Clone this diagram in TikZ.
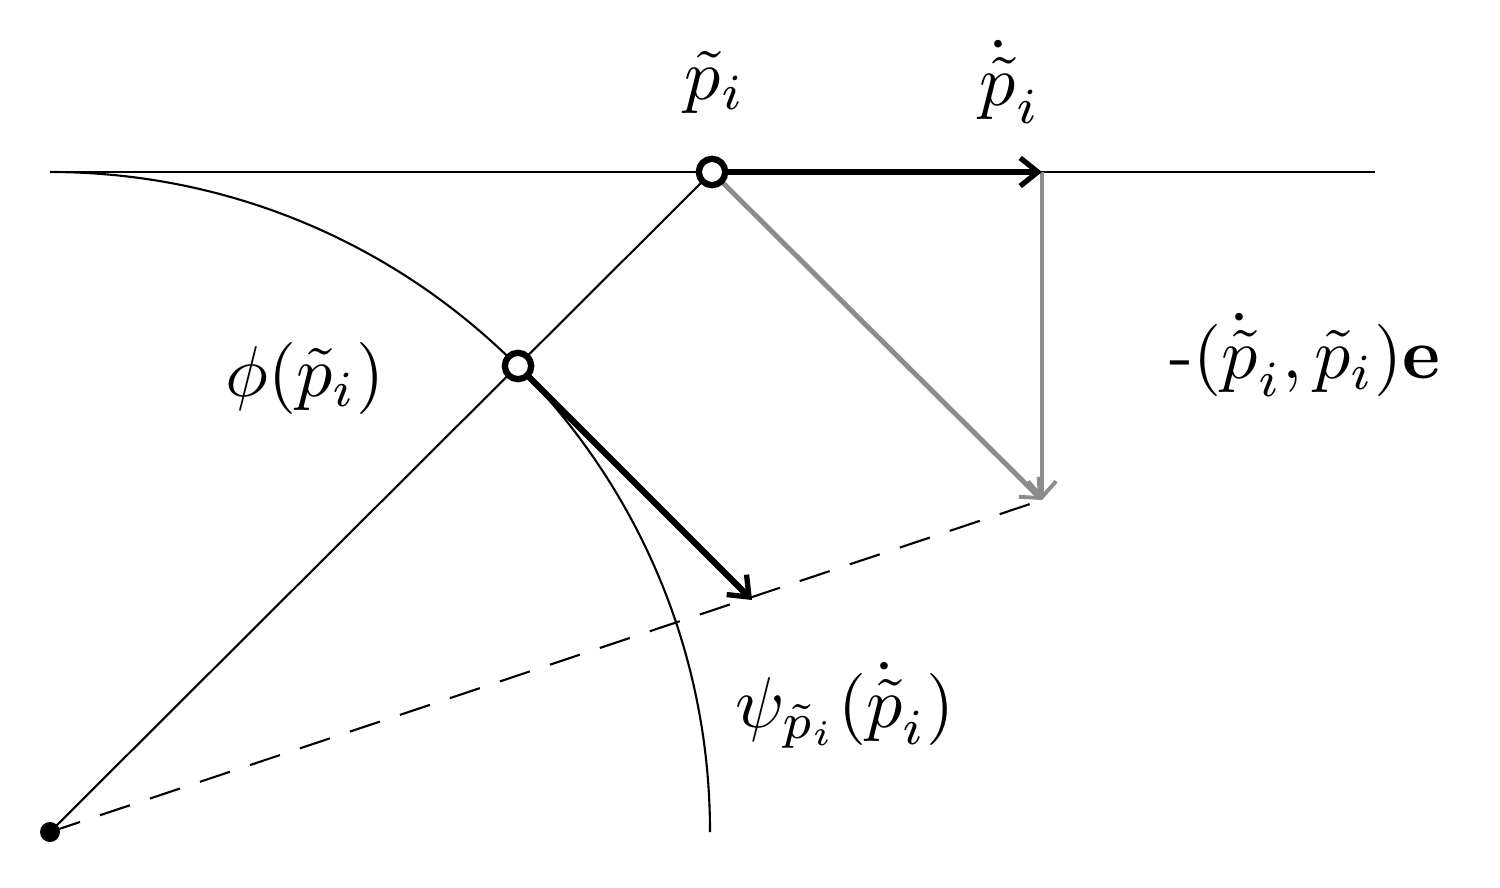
\documentclass[tikz,border=0pt]{standalone}
\usetikzlibrary{arrows.meta}
\begin{document}
\begin{tikzpicture}[x=0.02cm,y=-0.02cm,
  thin line/.style={line width=1.2pt},
  vec/.style={line width=3.6pt,-{Straight Barb[length=10pt,width=16pt,line width=3pt]}},
  gvec/.style={line width=2.8pt,gray!90,-{Straight Barb[length=9pt,width=16pt,line width=2.2pt]}},
  open/.style={circle,draw,fill=white,line width=3.6pt,minimum size=15pt,inner sep=0pt},
  lab/.style={scale=4.1}]
\useasboundingbox (0,0) rectangle (1500,888);
\coordinate (O) at (50,832);
\coordinate (L) at (50,172);
\coordinate (R) at (1375,172);
\coordinate (A) at (1042,172);
\coordinate (B) at (1042,500);
\coordinate (C) at (752,600);
\draw[thin line] (L) -- (R);
\draw[thin line] (L) arc[start angle=270,end angle=360,radius=660];
\draw[thin line] (O) -- (712,172);
\draw[thin line,dash pattern=on 18pt off 12pt] (O) -- (B);
\draw[gvec] (712,172) -- (B);
\draw[gvec] (A) -- (B);
\draw[vec] (712,172) -- (A);
\draw[vec] (518,366) -- (C);
\node[open] (p) at (712,172) {};
\node[open] (phi) at (518,366) {};
\fill (O) circle (10);
\node[lab] (lp) at (715,82) {$\tilde p_i$};
\node[lab] (ld) at (1010,82) {$\dot{\tilde p}_i$};
\node[lab] (lphi) at (305,378) {$\phi(\tilde p_i)$};
\node[lab] (le) at (1305,355) {-$(\dot{\tilde p}_i,\tilde p_i)\mathbf{e}$};
\node[lab] (lpsi) at (845,705) {$\psi_{\tilde p_i}(\dot{\tilde p}_i)$};
\end{tikzpicture}
\end{document}
